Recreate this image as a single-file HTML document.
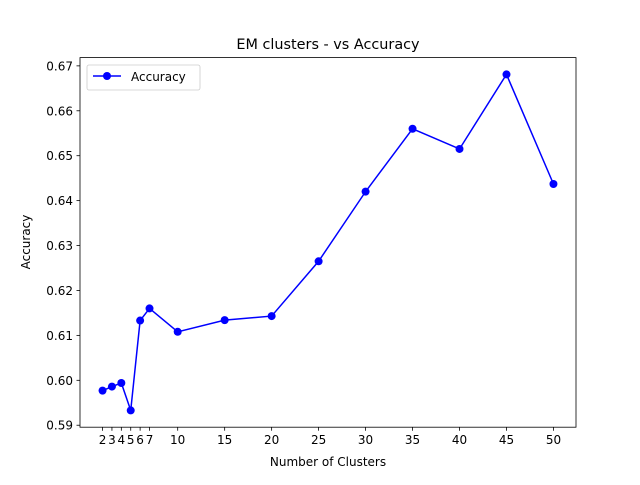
<!DOCTYPE html>
<html><head><meta charset="utf-8"><style>
body{margin:0;background:#fff;}
text{font-family:"DejaVu Sans","Liberation Sans",sans-serif;fill:#000;}
</style></head><body>
<svg id="chart" width="640" height="480" xmlns="http://www.w3.org/2000/svg">
<rect width="640" height="480" fill="#fff"/>
<text x="328" y="49" font-size="14.4" text-anchor="middle">EM clusters - vs Accuracy</text>
<text x="328" y="466" font-size="12" text-anchor="middle">Number of Clusters</text>
<text x="30" y="242" font-size="12" text-anchor="middle" transform="rotate(-90 30 242)">Accuracy</text>
<g id="xticks"></g><g id="yticks"></g><g id="series"></g>
<rect x="80" y="57.6" width="496" height="369.6" fill="none" stroke="#000" stroke-width="0.8"/>
<g>
<rect x="87" y="65" width="113" height="25" rx="2" fill="#fff" stroke="#ccc" stroke-width="0.8"/>
<line x1="93" y1="76" x2="121" y2="76" stroke="#0000ff" stroke-width="1.5"/>
<circle cx="107" cy="76" r="4" fill="#0000ff"/>
<text x="131" y="81" font-size="12">Accuracy</text>
</g>
</svg>
<script>
const xs=[2,3,4,5,6,7,10,15,20,25,30,35,40,45,50];
const acc=[0.5977,0.5986,0.5994,0.5933,0.6133,0.6160,0.6108,0.6134,0.6143,0.6265,0.6420,0.6560,0.6515,0.6681,0.6437];
const xTickVals=[2,3,4,5,6,7,10,15,20,25,30,35,40,45,50];
const yTickVals=[0.59,0.60,0.61,0.62,0.63,0.64,0.65,0.66,0.67];
const yTickLabels=["0.59","0.60","0.61","0.62","0.63","0.64","0.65","0.66","0.67"];
const NS="http://www.w3.org/2000/svg";
const L=80,R=576,T=57.6,B=427.2;
const xmin=Math.min(...xs),xmax=Math.max(...xs),xp=(xmax-xmin)*0.05;
const ymin=Math.min(...acc),ymax=Math.max(...acc),yp=(ymax-ymin)*0.05;
const X=v=>L+(v-(xmin-xp))/((xmax+xp)-(xmin-xp))*(R-L);
const Y=v=>B-(v-(ymin-yp))/((ymax+yp)-(ymin-yp))*(B-T);
function mk(tag,attrs,parent){const e=document.createElementNS(NS,tag);for(const k in attrs)e.setAttribute(k,attrs[k]);parent.appendChild(e);return e;}
const gx=document.getElementById('xticks'),gy=document.getElementById('yticks'),gs=document.getElementById('series');
xTickVals.forEach(v=>{
  const l=mk('line',{x1:X(v),x2:X(v),y1:B,y2:B+3.5,stroke:'#000','stroke-width':0.8},gx);
  
  
  const t=mk('text',{x:X(v),y:B+17,'font-size':12,'text-anchor':'middle'},gx);
  t.textContent=v;
  
  
});
yTickVals.forEach((v,i)=>{
  const l=mk('line',{x1:L-3.5,x2:L,y1:Y(v),y2:Y(v),stroke:'#000','stroke-width':0.8},gy);
  
  
  const t=mk('text',{x:L-7,y:Y(v)+4.5,'font-size':12,'text-anchor':'end'},gy);
  t.textContent=yTickLabels[i];
  
  
});
const pl=mk('polyline',{points:xs.map((x,i)=>X(x)+','+Y(acc[i])).join(' '),fill:'none',stroke:'#0000ff','stroke-width':1.5},gs);


xs.forEach((x,i)=>{
  const c=mk('circle',{cx:X(x),cy:Y(acc[i]),r:4,fill:'#0000ff'},gs);
  
  
});
</script>
</body></html>
